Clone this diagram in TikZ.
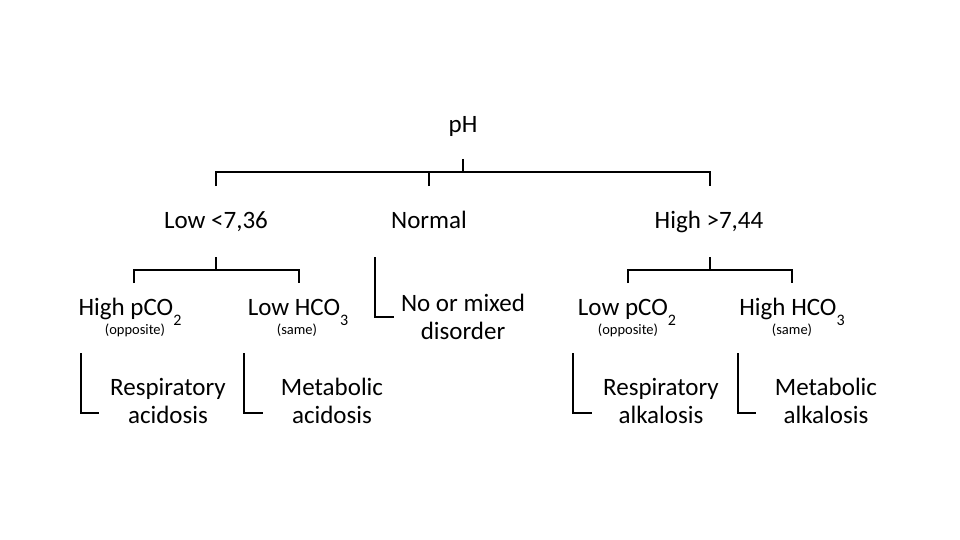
\documentclass[tikz,border=0pt]{standalone}
\usepackage{fontspec}
\setmainfont{Carlito}
\usetikzlibrary{positioning}
\newcommand{\lowsub}[1]{\raisebox{-10pt}{\fontsize{16}{16}\selectfont #1}}

\begin{document}
\begin{tikzpicture}[x=1pt, y=-1pt, line width=2pt,
  every node/.style={inner sep=0pt, anchor=base, align=center, font=\fontsize{25}{28}\selectfont},
  note/.style={font=\fontsize{14.5}{16}\selectfont}]
\useasboundingbox (0,0) rectangle (960,540);
% top level
\node (ph) at (463,133) {pH};
\node (low) at (216,228) {Low <7,36};
\node (norm) at (429,228) {Normal};
\node (high) at (709,228) {High >7,44};
\coordinate (phtick) at (463,159);
\coordinate (phbar) at (463,172);
\coordinate (lowtop) at (216,186);
\coordinate (normtop) at (429,186);
\coordinate (hightop) at (710,186);
\draw (phtick) -- (phbar);
\draw (lowtop) |- (phbar) -| (hightop);
\draw (normtop) -- (normtop |- phbar);
% second level
\node (hpco) at (130,315) {High pCO\lowsub{2}};
\node[note] (hpcon) at (135,334) {(opposite)};
\node (lhco) at (298,315) {Low HCO\lowsub{3}};
\node[note] (lhcon) at (297,334) {(same)};
\node (mixed) at (463,339) {No or mixed\\disorder};
\node (lpco) at (627,315) {Low pCO\lowsub{2}};
\node[note] (lpcon) at (628,334) {(opposite)};
\node (hhco) at (792,315) {High HCO\lowsub{3}};
\node[note] (hhcon) at (792,334) {(same)};
\coordinate (lowtick) at (216,257);
\coordinate (lowbar) at (216,270);
\coordinate (hpcotop) at (134,283);
\coordinate (lhcotop) at (299,283);
\draw (lowtick) -- (lowbar);
\draw (hpcotop) |- (lowbar) -| (lhcotop);
\coordinate (hightick) at (710,257);
\coordinate (highbar) at (710,270);
\coordinate (lpcotop) at (628,283);
\coordinate (hhcotop) at (792,283);
\draw (hightick) -- (highbar);
\draw (lpcotop) |- (highbar) -| (hhcotop);
\coordinate (mixtop) at (375,257);
\coordinate (mixend) at (394,317);
\draw (mixtop) |- (mixend);
% third level
\node (racid) at (168,423) {Respiratory\\acidosis};
\node (macid) at (332,423) {Metabolic\\acidosis};
\node (ralk) at (661,423) {Respiratory\\alkalosis};
\node (malk) at (826,423) {Metabolic\\alkalosis};
\coordinate (racidtop) at (81,353);
\coordinate (racidend) at (99,413);
\coordinate (macidtop) at (244,353);
\coordinate (macidend) at (263,413);
\coordinate (ralktop) at (573,353);
\coordinate (ralkend) at (592,413);
\coordinate (malktop) at (738,353);
\coordinate (malkend) at (756,413);
\draw (racidtop) |- (racidend);
\draw (macidtop) |- (macidend);
\draw (ralktop) |- (ralkend);
\draw (malktop) |- (malkend);
\end{tikzpicture}
\end{document}
